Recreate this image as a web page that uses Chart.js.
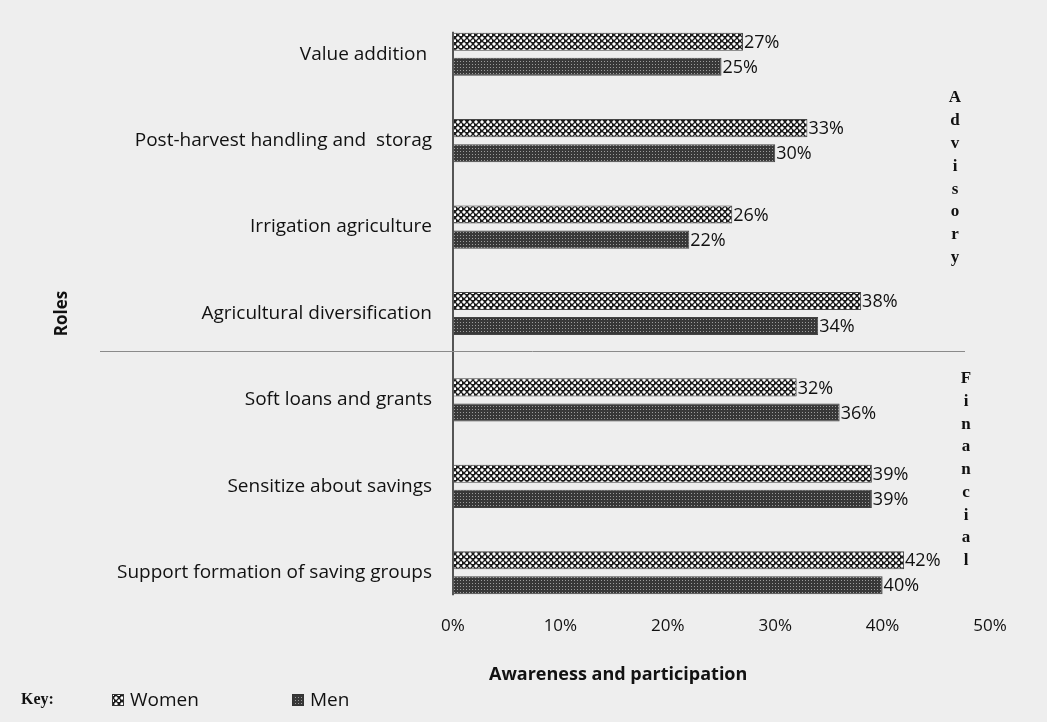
<!DOCTYPE html>
<html>
<head>
<meta charset="utf-8">
<script src="https://cdn.jsdelivr.net/npm/chart.js@4/dist/chart.umd.min.js"></script>
<style>
  html, body { margin: 0; padding: 0; background: #eeeeee; }
  #wrap { width: 1047px; height: 722px; }
</style>
</head>
<body>
<div id="wrap"><canvas id="chart" width="1047" height="722"></canvas></div>
<script>
// dados do gráfico
const roles = [
  'Value addition ',
  'Post-harvest handling and  storag',
  'Irrigation agriculture',
  'Agricultural diversification',
  'Soft loans and grants',
  'Sensitize about savings',
  'Support formation of saving groups'
];
const womenValues = [27, 33, 26, 38, 32, 39, 42];
const menValues = [25, 30, 22, 34, 36, 39, 40];
const xTicks = [0, 10, 20, 30, 40, 50];
const groupLabels = ['Advisory', 'Financial'];
const xTitle = 'Awareness and participation';

const FONT = "'Open Sans', sans-serif";
const SERIF = "'Liberation Serif', 'DejaVu Serif', serif";

// padrões das barras
function makePattern(size, draw) {
  const c = document.createElement('canvas');
  c.width = size; c.height = size;
  const g = c.getContext('2d');
  draw(g);
  return g.createPattern(c, 'repeat');
}
const womenPattern = makePattern(6, g => {
  g.fillStyle = '#1c1c1c'; g.fillRect(0, 0, 6, 6);
  g.fillStyle = '#9a9a9a';
  g.fillRect(0, 1, 4, 2); g.fillRect(1, 0, 2, 4);
  g.fillRect(3, 4, 4, 2); g.fillRect(4, 3, 2, 4);
  g.fillStyle = '#ffffff';
  g.fillRect(1, 1, 2, 2); g.fillRect(4, 4, 2, 2);
});
const menPattern = makePattern(3, g => {
  g.fillStyle = '#383838'; g.fillRect(0, 0, 3, 3);
  g.fillStyle = '#9c9c9c'; g.fillRect(1, 1, 1, 1);
});

// rótulos de valor, eixo, separador, letras laterais e legenda
const extras = {
  id: 'extras',
  afterDatasetsDraw(chart) {
    const { ctx } = chart;
    const w = chart.getDatasetMeta(0).data;
    const m = chart.getDatasetMeta(1).data;
    ctx.save();
    // linha do eixo vertical
    const x0 = chart.scales.x.getPixelForValue(0);
    ctx.strokeStyle = '#555';
    ctx.lineWidth = 2;
    ctx.beginPath();
    ctx.moveTo(x0, w[0].y - w[0].height / 2 - 1);
    ctx.lineTo(x0, m[m.length - 1].y + m[m.length - 1].height / 2 + 1);
    ctx.stroke();
    // separador entre Advisory e Financial
    const ySep = Math.round(chart.scales.y.getPixelForValue(3.43)) + 0.5;
    ctx.strokeStyle = '#8a8a8a';
    ctx.lineWidth = 1;
    ctx.beginPath();
    ctx.moveTo(100, ySep);
    ctx.lineTo(965, ySep);
    ctx.stroke();
    // rótulos de valor
    ctx.fillStyle = '#111';
    ctx.font = '18px ' + FONT;
    ctx.textAlign = 'left';
    ctx.textBaseline = 'middle';
    [[w, womenValues], [m, menValues]].forEach(([bars, vals]) => {
      bars.forEach((b, i) => ctx.fillText(vals[i] + '%', b.x + 1, b.y + 1));
    });
    // título do eixo x
    ctx.font = 'bold 18px ' + FONT;
    ctx.fillText(xTitle, 489, 675);
    // letras verticais
    ctx.font = 'bold 17px ' + SERIF;
    ctx.textAlign = 'center';
    groupLabels[0].split('').forEach((ch, i) => ctx.fillText(ch, 955, 98 + i * 22.8));
    groupLabels[1].split('').forEach((ch, i) => ctx.fillText(ch, 966, 379 + i * 22.7));
    // legenda
    const ly = 700;
    ctx.textAlign = 'left';
    ctx.font = 'bold 16px ' + SERIF;
    ctx.fillText('Key:', 21, ly);
    ctx.font = '19px ' + FONT;
    [[112, womenPattern, 'Women'], [292, menPattern, 'Men']].forEach(([lx, pat, txt]) => {
      ctx.fillStyle = pat;
      ctx.fillRect(lx, ly - 6, 12, 12);
      ctx.strokeStyle = '#333';
      ctx.strokeRect(lx + 0.5, ly - 5.5, 11, 11);
      ctx.fillStyle = '#111';
      ctx.fillText(txt, lx + 18, ly + 1);
    });
    ctx.restore();
  }
};

new Chart(document.getElementById('chart'), {
  type: 'bar',
  data: {
    labels: roles,
    datasets: [
      {
        label: 'Women',
        data: womenValues,
        backgroundColor: womenPattern,
        borderColor: '#444',
        borderWidth: 1,
        borderSkipped: false,
        categoryPercentage: 0.58,
        barPercentage: 0.72
      },
      {
        label: 'Men',
        data: menValues,
        backgroundColor: menPattern,
        borderColor: '#444',
        borderWidth: 1,
        borderSkipped: false,
        categoryPercentage: 0.58,
        barPercentage: 0.72
      }
    ]
  },
  options: {
    indexAxis: 'y',
    responsive: false,
    animation: false,
    layout: { padding: { left: 0, right: 57, top: 11, bottom: 31 } },
    plugins: {
      legend: { display: false },
      tooltip: { enabled: false }
    },
    scales: {
      x: {
        min: xTicks[0],
        max: xTicks[xTicks.length - 1],
        afterFit: s => { s.height = 75; },
        afterBuildTicks: s => { s.ticks = xTicks.map(v => ({ value: v })); },
        grid: { display: false, drawTicks: false },
        border: { display: false },
        ticks: {
          padding: 0,
          color: '#111',
          font: { family: FONT, size: 17 },
          callback: v => v + '%'
        }
      },
      y: {
        afterFit: s => { s.width = 453; s.paddingTop = 0; s.paddingBottom = 0; },
        grid: { display: false, drawTicks: false },
        border: { display: false },
        ticks: {
          padding: 21,
          color: '#111',
          font: { family: FONT, size: 19 }
        },
        title: {
          display: true,
          text: 'Roles',
          color: '#111',
          font: { family: FONT, size: 17, weight: 'bold' },
          padding: { top: 52, bottom: 0 }
        }
      }
    }
  },
  plugins: [extras]
});
</script>
</body>
</html>
